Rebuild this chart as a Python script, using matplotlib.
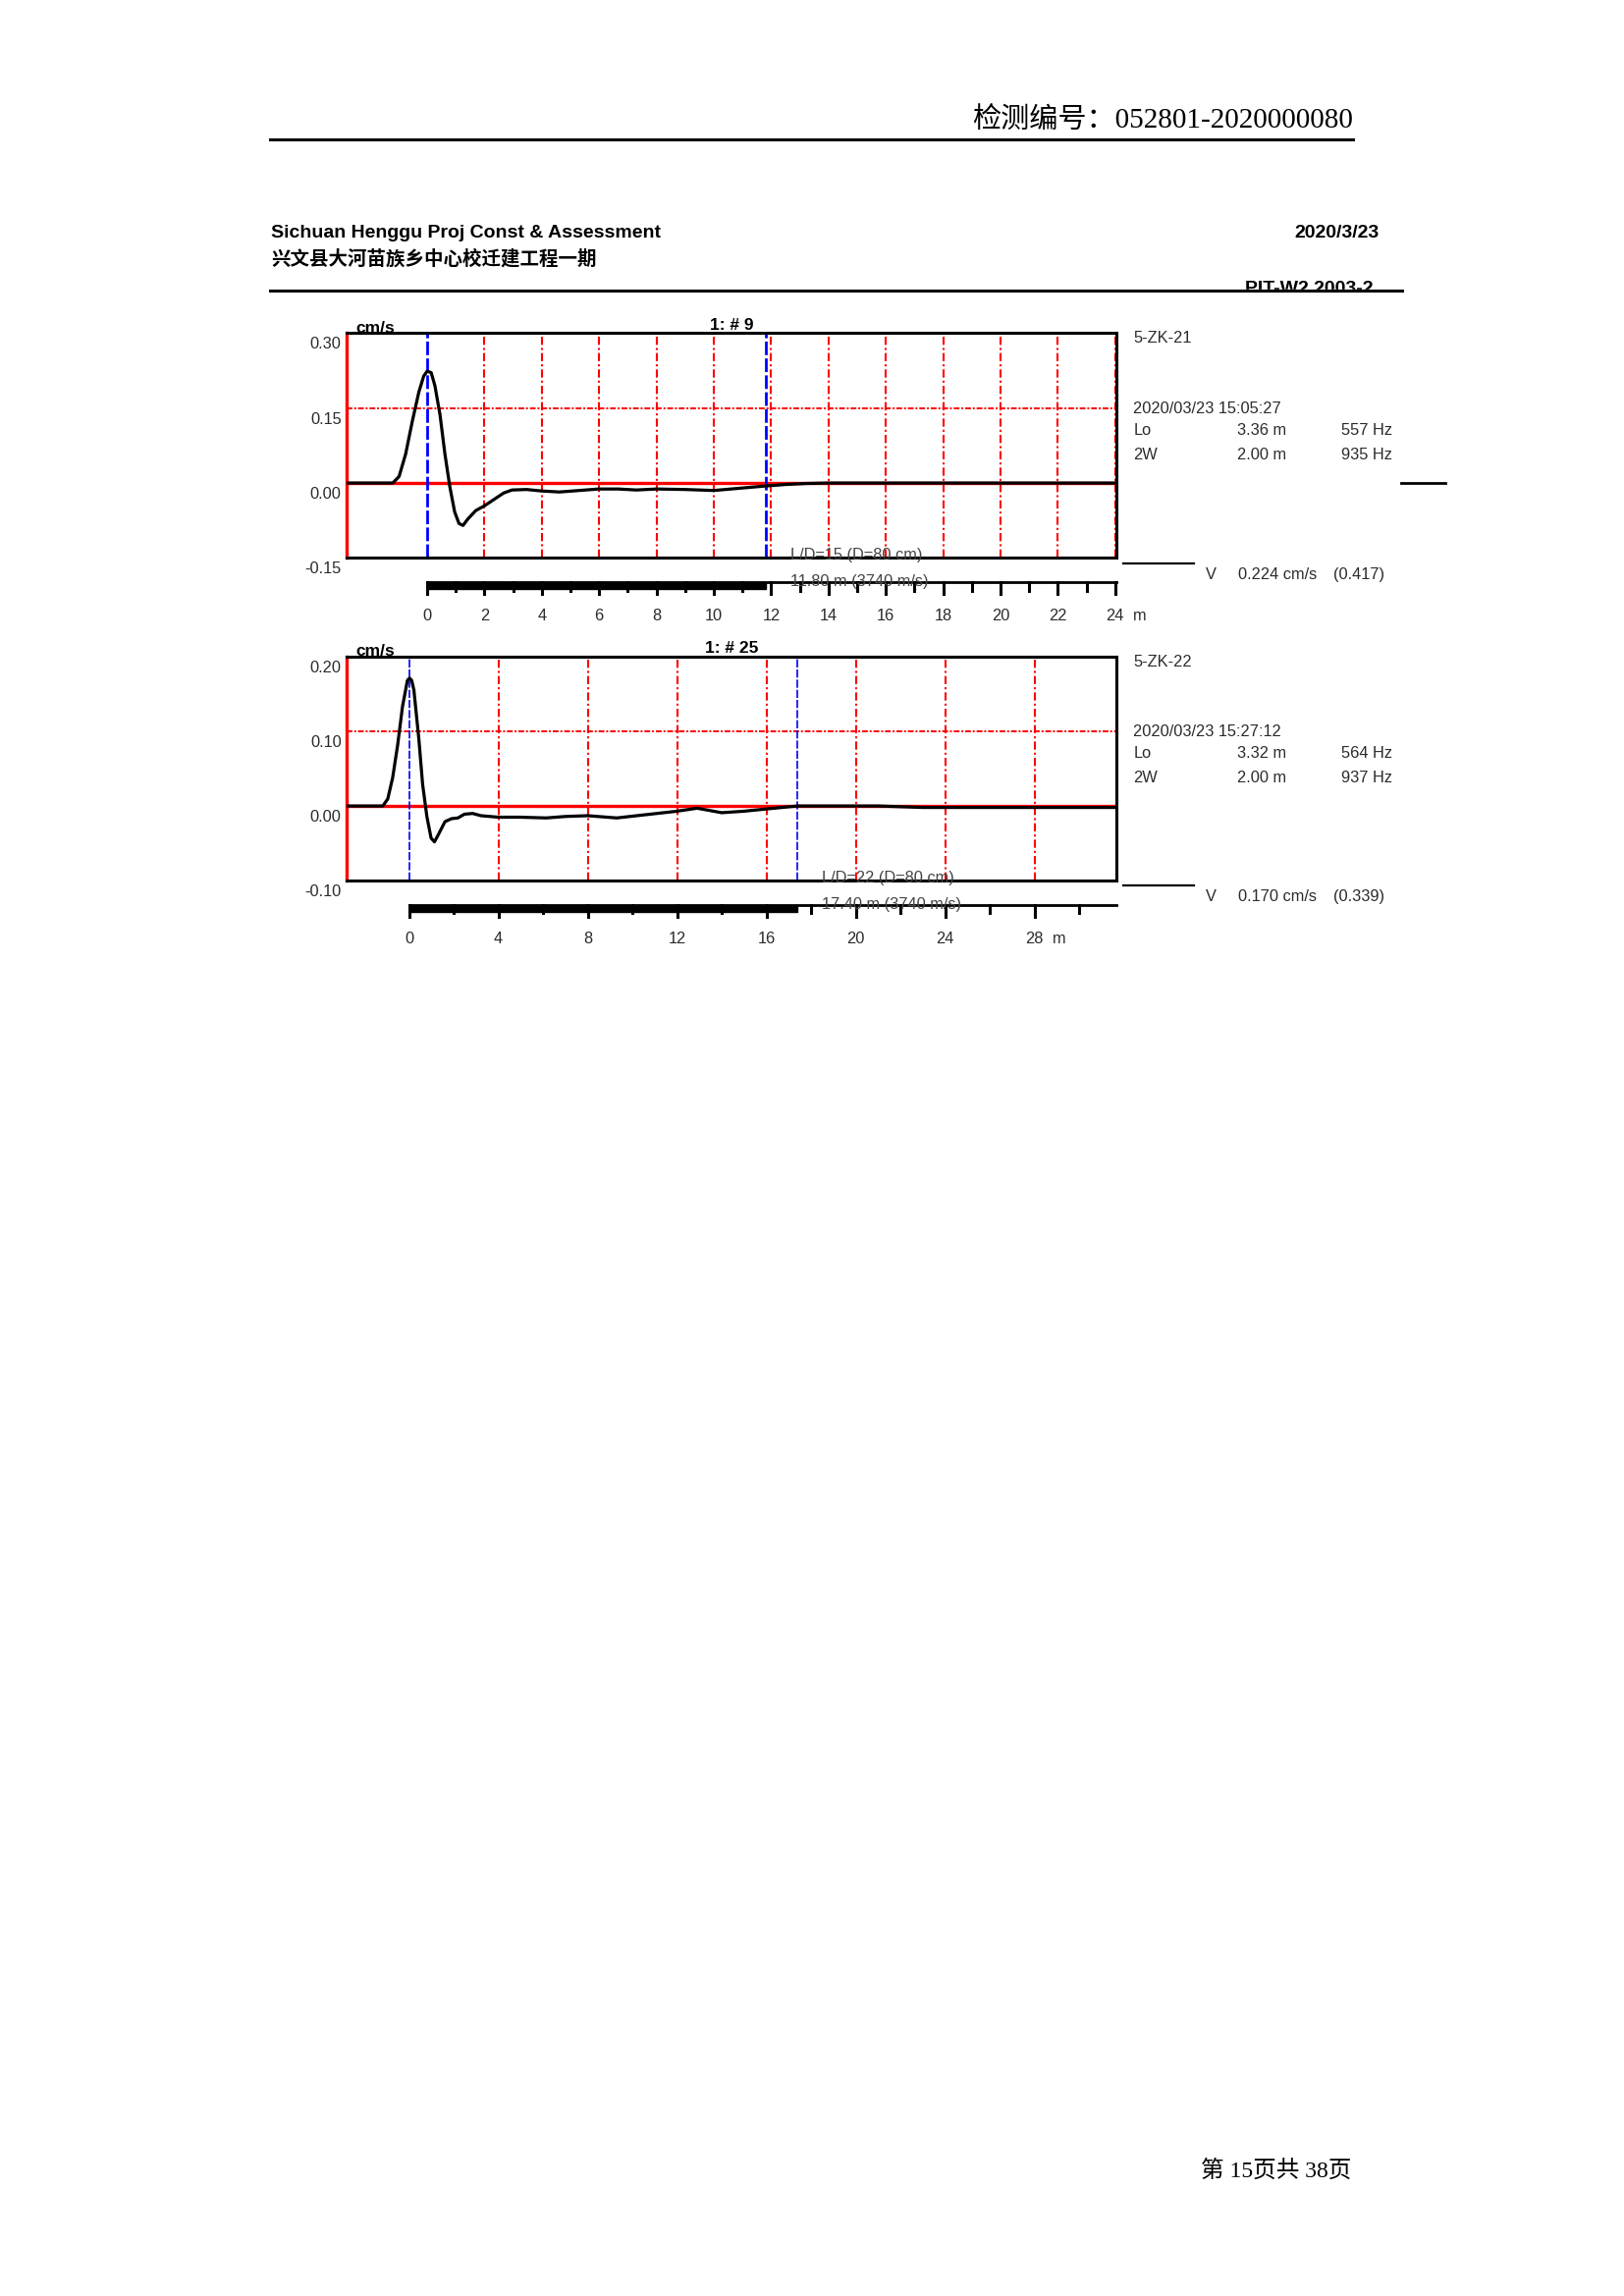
import matplotlib
matplotlib.use('Agg')
import matplotlib.pyplot as plt
import matplotlib.transforms as mtransforms
from matplotlib.patches import Rectangle

# ---- page text ----
report_no = '检测编号：052801-2020000080'
company = 'Sichuan Henggu Proj Const & Assessment'
project = '兴文县大河苗族乡中心校迁建工程一期'
report_date = '2020/3/23'
device = 'PIT-W2 2003-2'
page_no = '第 15页共 38页'

# ---- pile records ----
pile_ids = ['5-ZK-21', '5-ZK-22']
titles = ['1: # 9', '1: # 25']
test_times = ['2020/03/23 15:05:27', '2020/03/23 15:27:12']
lo_len = ['3.36 m', '3.32 m']
lo_freq = ['557 Hz', '564 Hz']
w2_len = ['2.00 m', '2.00 m']
w2_freq = ['935 Hz', '937 Hz']
v_peak = ['0.224 cm/s', '0.170 cm/s']
v_ratio = ['(0.417)', '(0.339)']
ld_text = ['L/D=15 (D=80 cm)', 'L/D=22 (D=80 cm)']
pile_len = [11.8, 17.4]
wave_speed = [3740, 3740]

y_lims = [(-0.15, 0.30), (-0.10, 0.20)]
y_ticks = [[0.30, 0.15, 0.00, -0.15], [0.20, 0.10, 0.00, -0.10]]
x_lims = [(-2.8, 24.03), (-2.78, 31.65)]
grid_x = [[2, 4, 6, 8, 10, 12, 14, 16, 18, 20, 22, 24], [4, 8, 12, 16, 20, 24, 28]]
grid_y = [0.15, 0.10]
scale_ticks = [list(range(0, 25)), list(range(0, 31, 2))]
scale_labels = [list(range(0, 25, 2)), list(range(0, 29, 4))]
edge_mark = [True, False]
blue_lw = [2.0, 1.2]

# velocity traces (x in m, y in cm/s)
trace1_x = [-2.8, -1.2, -0.98, -0.75, -0.52, -0.29, -0.12, 0.0, 0.14, 0.27, 0.45, 0.62, 0.79,
            0.96, 1.11, 1.25, 1.42, 1.70, 1.99, 2.33, 2.67, 2.96, 3.47, 4.0, 4.61, 5.3,
            5.98, 6.67, 7.3, 8.0, 9.0, 10.0, 11.0, 11.8, 12.5, 13.2, 14.0, 16.0, 20.0, 24.03]
trace1_y = [0, 0, 0.013, 0.058, 0.123, 0.182, 0.214, 0.224, 0.221, 0.195, 0.136, 0.058, -0.007,
            -0.058, -0.081, -0.085, -0.072, -0.055, -0.046, -0.033, -0.020, -0.014, -0.013, -0.016, -0.018, -0.015,
            -0.012, -0.012, -0.014, -0.012, -0.013, -0.015, -0.010, -0.006, -0.003, -0.001, 0.0, 0.0, 0.0, 0.0]
trace2_x = [-2.78, -1.17, -0.95, -0.73, -0.51, -0.29, -0.07, 0.03, 0.12, 0.22, 0.44, 0.61, 0.80,
            0.99, 1.14, 1.32, 1.61, 1.90, 2.19, 2.48, 2.85, 3.22, 4.0, 4.97, 6.14, 7.02,
            8.0, 9.3, 10.5, 12.0, 12.9, 14.0, 15.0, 16.0, 17.4, 19.0, 21.0, 23.0, 26.0, 29.0, 31.65]
trace2_y = [0, 0, 0.0095, 0.038, 0.081, 0.133, 0.168, 0.171, 0.168, 0.155, 0.090, 0.029, -0.014,
            -0.043, -0.048, -0.038, -0.021, -0.017, -0.016, -0.011, -0.010, -0.013, -0.015, -0.015, -0.016, -0.014,
            -0.013, -0.016, -0.012, -0.007, -0.003, -0.009, -0.007, -0.004, 0.0, 0.0, 0.0, -0.002, -0.002, -0.002, -0.002]
traces = [(trace1_x, trace1_y), (trace2_x, trace2_y)]

SANS = 'Liberation Sans'
GREY = '#2b2b2b'

fig = plt.figure(figsize=(16.54, 23.39), dpi=100)

# page overlay in pixel units
page = fig.add_axes([0, 0, 1, 1])
page.set_xlim(0, 1654)
page.set_ylim(2339, 0)
page.axis('off')

page.text(1378, 123, report_no, ha='right', va='center', fontsize=21,
          family=['Liberation Serif', 'Noto Sans CJK SC'])
page.plot([275, 1378], [141.5, 141.5], color='k', lw=2.2)
page.text(276, 237, company, ha='left', va='center', fontsize=14, weight='bold', family=SANS)
page.text(1405, 237, report_date, ha='right', va='center', fontsize=14, weight='bold', family=SANS)
page.text(276, 264, project, ha='left', va='center', fontsize=14, weight='bold',
          family=['Noto Sans CJK SC', 'DejaVu Sans'])
page.text(1398, 299, device, ha='right', va='baseline', fontsize=14, weight='bold', family=SANS)
page.add_patch(Rectangle((1200, 295), 260, 30, color='white', zorder=5))
page.plot([275, 1428], [295.5, 295.5], color='k', lw=2.2, zorder=6)
page.text(1376, 2212, page_no, ha='right', va='center', fontsize=17,
          family=['Liberation Serif', 'Noto Sans CJK SC'])

axes_pos = [[0.2136, 0.757, 0.4736, 0.0979], [0.2136, 0.6164, 0.4736, 0.0977]]

for i in range(2):
    ax = fig.add_axes(axes_pos[i])
    ax.set_xlim(*x_lims[i])
    ax.set_ylim(*y_lims[i])
    ax.set_xticks([])
    ax.set_yticks([])
    for s in ['top', 'bottom', 'right']:
        ax.spines[s].set_color('k')
        ax.spines[s].set_linewidth(2.2)
    ax.spines['left'].set_color('red')
    ax.spines['left'].set_linewidth(2.4)

    # grid
    for g in grid_x[i]:
        ax.axvline(g, color='red', lw=1.5, ls=(0, (4, 1.5, 1, 1.5)), zorder=1, clip_on=False)
    ax.axhline(grid_y[i], color='red', lw=1.4, ls=(0, (3, 1, 1, 1)), zorder=1)
    ax.axhline(0, color='red', lw=2.4, zorder=2)
    for b in [0, pile_len[i]]:
        ax.axvline(b, color='blue', lw=blue_lw[i], ls=(0, (5, 1.2)), zorder=2)

    tx, ty = traces[i]
    ax.plot(tx, ty, color='k', lw=2.3, zorder=3, solid_joinstyle='round')

    # y labels sit a little below their level
    yb = mtransforms.blended_transform_factory(ax.transAxes, ax.transData)
    for v in y_ticks[i]:
        ax.annotate('%.2f' % v, xy=(0, v), xycoords=yb, xytext=(-4, -8.3),
                    textcoords='offset points', ha='right', va='center',
                    fontsize=11.8, color=GREY, family=SANS, annotation_clip=False)

    ax.text(0.0116, 1.023, 'cm/s', transform=ax.transAxes, ha='left', va='center',
            fontsize=12.5, weight='bold', family=SANS)
    ax.text(0.5, 1.036, titles[i], transform=ax.transAxes, ha='center', va='center',
            fontsize=12.5, weight='bold', family=SANS)

    # length scale under the plot
    bt = mtransforms.blended_transform_factory(ax.transData, ax.transAxes)
    ax.plot([0, x_lims[i][1]], [-0.107, -0.107], color='k', lw=2.0, transform=bt, clip_on=False)
    ax.add_patch(Rectangle((0, -0.138), pile_len[i], 0.031, transform=bt, color='k', clip_on=False))
    for t in scale_ticks[i]:
        low = -0.16 if t in scale_labels[i] else -0.145
        ax.plot([t, t], [-0.107, low], color='k', lw=2.2, transform=bt, clip_on=False)
    for t in scale_labels[i]:
        ax.text(t, -0.26, str(t), transform=bt, ha='center', va='center',
                fontsize=11.8, color=GREY, family=SANS)
    ax.annotate('m', xy=(scale_labels[i][-1], -0.26), xycoords=bt, xytext=(18, 0),
                textcoords='offset points', ha='center', va='center',
                fontsize=11.8, color=GREY, family=SANS, annotation_clip=False)

    ax.annotate(ld_text[i], xy=(pile_len[i], 0.012), xycoords=bt, xytext=(18, 0),
                textcoords='offset points', ha='left', va='center',
                fontsize=11.8, color='#444444', family=SANS, annotation_clip=False)
    ax.annotate('%.2f m (%d m/s)' % (pile_len[i], wave_speed[i]), xy=(pile_len[i], -0.107),
                xycoords=bt, xytext=(18, 0), textcoords='offset points', ha='left', va='center',
                fontsize=11.8, color='#444444', family=SANS, annotation_clip=False)

    # info block on the right
    at = ax.transAxes
    ax.text(1.0226, 0.976, pile_ids[i], transform=at, va='center', fontsize=11.8, color=GREY, family=SANS)
    ax.text(1.0226, 0.662, test_times[i], transform=at, va='center', fontsize=11.8, color=GREY, family=SANS)
    rows = [('Lo', lo_len[i], lo_freq[i]), ('2W', w2_len[i], w2_freq[i])]
    for r, yy in zip(rows, [0.566, 0.46]):
        ax.text(1.0226, yy, r[0], transform=at, va='center', fontsize=11.8, color=GREY, family=SANS)
        ax.text(1.158, yy, r[1], transform=at, va='center', fontsize=11.8, color=GREY, family=SANS)
        ax.text(1.293, yy, r[2], transform=at, va='center', fontsize=11.8, color=GREY, family=SANS)
    ax.plot([1.009, 1.101], [-0.023, -0.023], color='k', lw=1.6, transform=at, clip_on=False)
    ax.text(1.117, -0.073, 'V', transform=at, va='center', fontsize=11.8, color=GREY, family=SANS)
    ax.text(1.159, -0.073, v_peak[i], transform=at, va='center', fontsize=11.8, color=GREY, family=SANS)
    ax.text(1.283, -0.073, v_ratio[i], transform=at, va='center', fontsize=11.8, color=GREY, family=SANS)
    if edge_mark[i]:
        ax.plot([1.371, 1.428], [0, 0], color='k', lw=2.0, transform=yb, clip_on=False)

plt.savefig('out.png', dpi=100)
